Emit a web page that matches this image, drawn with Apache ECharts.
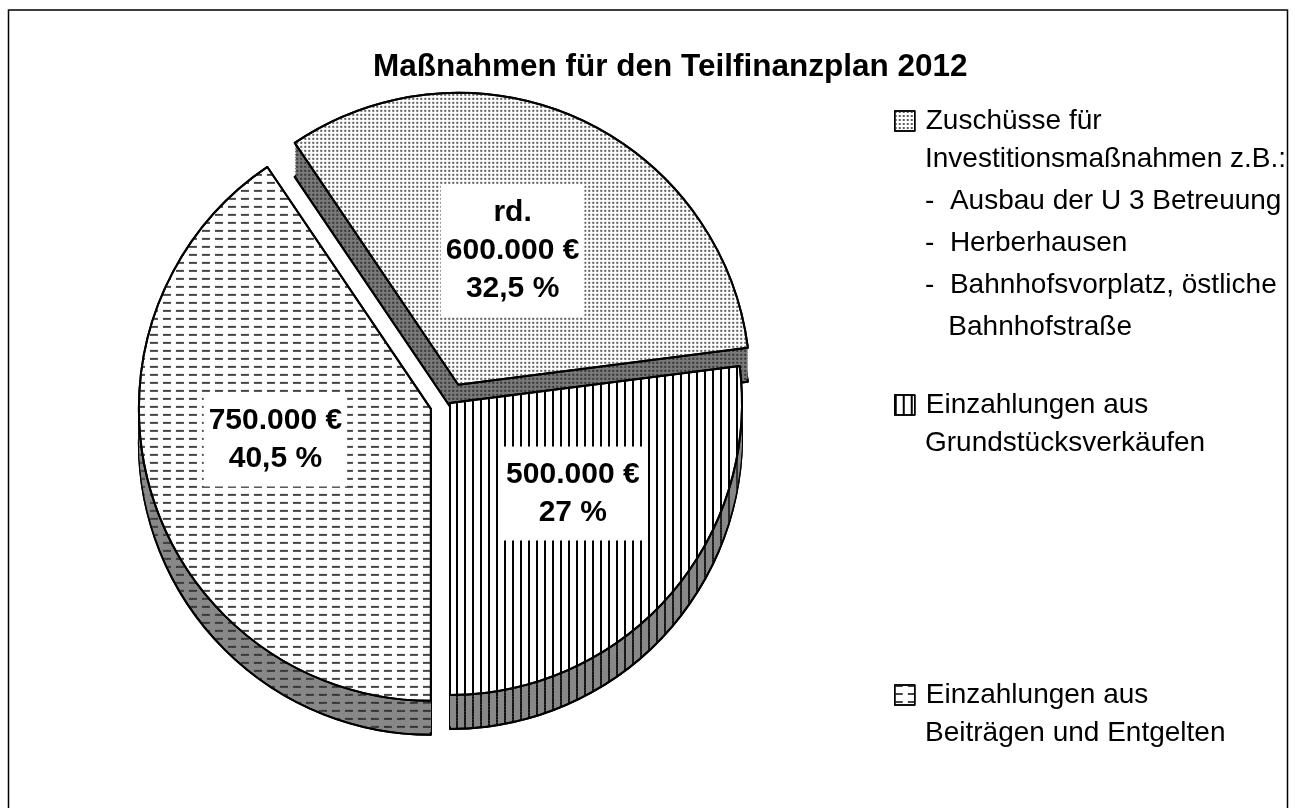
<!DOCTYPE html>
<html lang="de">
<head>
<meta charset="UTF-8" />
<title>Maßnahmen für den Teilfinanzplan 2012</title>
<script src="https://cdn.jsdelivr.net/npm/echarts@6/dist/echarts.min.js"></script>
<style>
  html, body { margin: 0; padding: 0; background: #fff; }
  #chart { width: 1295px; height: 808px; }
</style>
</head>
<body>
<div id="chart"></div>
<script>
// Daten in Legendenreihenfolge
var categories = [
  'Zuschüsse für\nInvestitionsmaßnahmen z.B.:\n-  Ausbau der U 3 Betreuung\n-  Herberhausen\n-  Bahnhofsvorplatz, östliche\n   Bahnhofstraße',
  'Einzahlungen aus\nGrundstücksverkäufen',
  'Einzahlungen aus\nBeiträgen und Entgelten'
];
var values = [600000, 500000, 750000];
var valueLabels = ['rd.\n600.000 €', '500.000 €', '750.000 €'];
var shareLabels = ['32,5 %', '27 %', '40,5 %'];
var exploded = [true, false, true];
// Reihenfolge im Kreis (im Uhrzeigersinn)
var pieOrder = [1, 2, 0];

var FONT = '"Liberation Sans", Arial, sans-serif';

// Muster: Deckfläche / Rand
var dots = function (c) {
  return { symbol: 'rect', symbolSize: 1, symbolKeepAspect: false, color: c, dashArrayX: [2, 2], dashArrayY: [2, 2] };
};
var vlines = function (c) {
  return { symbol: 'rect', symbolSize: 1, symbolKeepAspect: false, color: c, dashArrayX: [2, 6], dashArrayY: [8, 0] };
};
var dashes = function (c) {
  return { symbol: 'rect', symbolSize: 1, symbolKeepAspect: false, color: c, dashArrayX: [8, 5], dashArrayY: [2, 6] };
};
var styles = [
  { color: '#fff', decal: dots('#5e5e5e'), sideColor: '#7a7a7a', sideDecal: dots('#333'), labelOffset: [-7, 2] },
  { color: '#fff', decal: vlines('#000'), sideColor: '#888', sideDecal: vlines('#111'), labelOffset: [11, -8] },
  { color: '#fff', decal: dashes('#444'), sideColor: '#888', sideDecal: dashes('#333'), labelOffset: [-13, -13] }
];

function pieData(side) {
  return pieOrder.map(function (i) {
    var st = styles[i];
    return {
      name: categories[i],
      value: values[i],
      selected: exploded[i],
      itemStyle: {
        color: side ? st.sideColor : st.color,
        decal: side ? st.sideDecal : st.decal
      },
      label: { formatter: valueLabels[i] + '\n' + shareLabels[i], offset: st.labelOffset },
      select: { label: { offset: st.labelOffset } }
    };
  });
}

var cx = 450, cy = 403, R = 292, depth = 34, steps = 12;
var startAngle = 7.3;

var series = [{
  type: 'pie',
  name: 'oben',
  z: 5,
  center: [cx, cy],
  radius: R,
  startAngle: startAngle,
  clockwise: true,
  selectedMode: 'multiple',
  selectedOffset: 20,
  silent: true,
  animation: false,
  data: pieData(false),
  itemStyle: { borderColor: '#000', borderWidth: 2 },
  label: {
    show: true,
    position: 'inside',
    fontFamily: FONT,
    fontSize: 30,
    fontWeight: 'bold',
    lineHeight: 38,
    color: '#000',
    backgroundColor: '#fff',
    padding: [9, 5],
    align: 'center'
  },
  labelLine: { show: false },
  emphasis: { disabled: true }
}];

// Rand (3D-Effekt): mehrere nach unten versetzte Kopien
for (var k = steps; k >= 1; k--) {
  series.push({
    type: 'pie',
    name: 'rand' + k,
    z: 2,
    center: [cx, cy + depth * k / steps],
    radius: R,
    startAngle: startAngle,
    clockwise: true,
    selectedMode: 'multiple',
    selectedOffset: 20,
    silent: true,
    animation: false,
    data: pieData(true),
    itemStyle: { borderColor: '#000', borderWidth: k === steps ? 2 : 0 },
    label: { show: false },
    labelLine: { show: false },
    emphasis: { disabled: true }
  });
}

// Legende: Symbol + erste Zeile, Folgezeilen als Text darunter
var legendLineY = [117, 401, 691];
var LH = 42;
var legends = categories.map(function (c, i) {
  return {
    data: [c],
    orient: 'vertical',
    left: 894,
    top: legendLineY[i] - 10,
    padding: 0,
    icon: 'rect',
    itemWidth: 20,
    itemHeight: 20,
    selectedMode: false,
    formatter: function (name) { return name.split('\n')[0]; },
    itemStyle: { borderColor: '#000', borderWidth: 1.5 },
    textStyle: {
      fontFamily: FONT,
      fontSize: 28,
      color: '#000',
      padding: [0, 0, 0, 6]
    }
  };
});
var legendRest = categories.map(function (c, i) {
  return {
    type: 'text',
    x: 925,
    y: legendLineY[i] + LH / 2,
    silent: true,
    style: {
      text: c.split('\n').slice(1).join('\n'),
      fontFamily: FONT,
      fontSize: 28,
      lineHeight: LH,
      fill: '#000',
      verticalAlign: 'top'
    }
  };
});

var chart = echarts.init(document.getElementById('chart'));
chart.setOption({
  animation: false,
  backgroundColor: '#fff',
  title: {
    text: 'Maßnahmen für den Teilfinanzplan 2012',
    left: 368,
    top: 46,
    textStyle: { fontFamily: FONT, fontSize: 31.5, fontWeight: 'bold', color: '#000' }
  },
  legend: legends,
  graphic: [{
    type: 'rect',
    shape: { x: 8.5, y: 10, width: 1279, height: 830 },
    style: { fill: null, stroke: '#000', lineWidth: 1.5 },
    silent: true
  }].concat(legendRest),
  series: series
});
</script>
</body>
</html>
